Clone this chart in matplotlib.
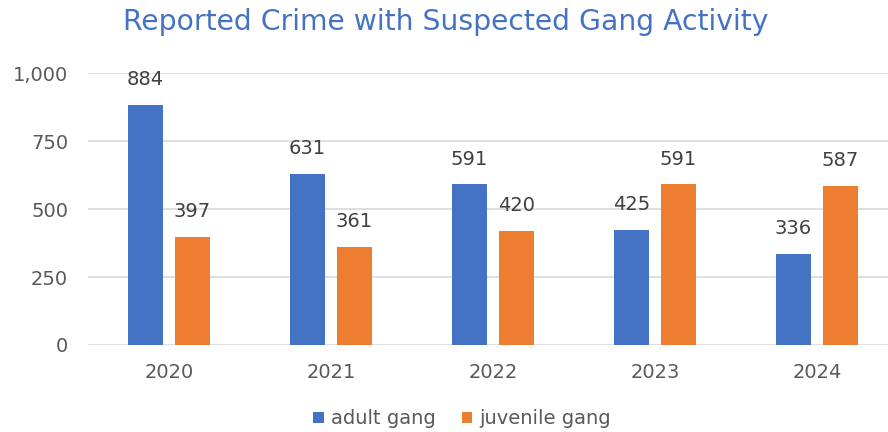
import matplotlib
matplotlib.use("Agg")
import matplotlib.pyplot as plt
import numpy as np

years = ["2020", "2021", "2022", "2023", "2024"]
adult = [884, 631, 591, 425, 336]
juvenile = [397, 361, 420, 591, 587]
yticks = [0, 250, 500, 750, 1000]
ytick_labels = ["0", "250", "500", "750", "1,000"]

blue = "#4472C4"
orange = "#ED7D31"

W, H = 888, 432
fig = plt.figure(figsize=(W / 100, H / 100), dpi=100)
left, right = 88, 898
top, bottom = 73.3, 345
ax = fig.add_axes([left / W, 1 - bottom / H, (right - left) / W, (bottom - top) / H])

x = np.arange(len(years))
bw = 0.222
off = 0.145
b1 = ax.bar(x - off, adult, bw, color=blue, label="adult gang", zorder=3)
b2 = ax.bar(x + off, juvenile, bw, color=orange, label="juvenile gang", zorder=3)

for bars, vals in ((b1, adult), (b2, juvenile)):
    for r, v in zip(bars, vals):
        ax.text(r.get_x() + r.get_width() / 2, v + 58, f"{v}", ha="center", va="bottom",
                fontsize=14, color="#404040", family="DejaVu Sans", clip_on=False)

ax.set_xlim(-0.5, len(years) - 0.5)
ax.set_ylim(0, 1000)
ax.set_yticks(yticks)
ax.set_yticklabels(ytick_labels)
ax.set_xticks(x)
ax.set_xticklabels(years)
ax.tick_params(axis="both", length=0, labelsize=14, labelcolor="#595959")
ax.tick_params(axis="y", pad=14.4)
ax.tick_params(axis="x", pad=13)
ax.grid(axis="y", color="#D9D9D9", linewidth=1.2, zorder=0)
for s in ax.spines.values():
    s.set_visible(False)

fig.text(445.5 / W, 1 - 22 / H, "Reported Crime with Suspected Gang Activity", ha="center", va="center",
         fontsize=20.3, color=blue)

fig.legend(handles=[b1, b2], loc="center", bbox_to_anchor=(462 / W, 1 - 419 / H), ncol=2, frameon=False,
           fontsize=14, labelcolor="#595959", handlelength=0.55, handleheight=0.55, handletextpad=0.35,
           columnspacing=1.35)

fig.savefig("out.png", dpi=100)
